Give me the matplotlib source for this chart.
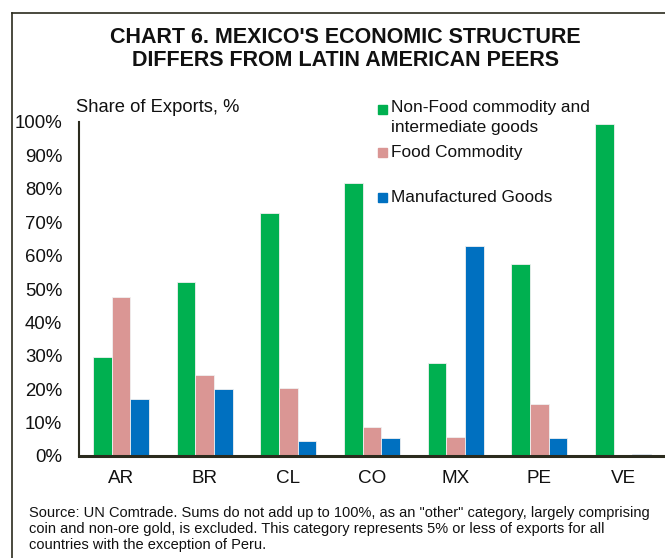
import numpy as np
import matplotlib
matplotlib.use("Agg")
import matplotlib.pyplot as plt
from matplotlib.patches import Rectangle
from matplotlib.lines import Line2D

countries = ["AR", "BR", "CL", "CO", "MX", "PE", "VE"]
non_food = [29.7, 52.2, 72.8, 81.7, 27.8, 57.4, 99.4]
food = [47.7, 24.3, 20.3, 8.7, 5.6, 15.6, 0.0]
manufactured = [17.0, 20.0, 4.5, 5.4, 62.9, 5.4, 0.6]

series_labels = ["Non-Food commodity and\nintermediate goods", "Food Commodity", "Manufactured Goods"]
series_colors = ["#00B050", "#DA9694", "#0070C0"]

title = "CHART 6. MEXICO'S ECONOMIC STRUCTURE\nDIFFERS FROM LATIN AMERICAN PEERS"
note = ("Source: UN Comtrade. Sums do not add up to 100%, as an \"other\" category, largely comprising\n"
        "coin and non-ore gold, is excluded. This category represents 5% or less of exports for all\n"
        "countries with the exception of Peru.")

plt.rcParams["font.family"] = ["Liberation Sans", "DejaVu Sans"]

W, H = 665, 558
fig = plt.figure(figsize=(W / 100, H / 100), dpi=100)

def fx(px):
    return px / W

def fy(py):
    return 1 - py / H

# outer frame (only top and left edges are inside the picture)
edge = "#2b2b1e"
fig.add_artist(Line2D([fx(11.5), 1.0], [fy(13), fy(13)], color=edge, lw=1.2))
fig.add_artist(Line2D([fx(11.5), fx(11.5)], [fy(13), 0.0], color=edge, lw=1.2))

ax = fig.add_axes([fx(79), fy(456), fx(665) - fx(79), fy(122) - fy(456)])

x = np.arange(len(countries))
w = 0.223
for i, (vals, col) in enumerate(zip([non_food, food, manufactured], series_colors)):
    ax.bar(x + (i - 1) * w, vals, width=w, color=col, edgecolor="#f0f0f0", linewidth=0.6)

ax.set_xlim(-0.5, 6.5)
ax.set_ylim(0, 100)
ax.set_yticks(np.arange(0, 101, 10))
ax.set_yticklabels([f"{v}%" for v in range(0, 101, 10)], fontsize=13.4, color="#111111")
ax.set_xticks(x)
ax.set_xticklabels(countries, fontsize=13.6, color="#111111")
ax.tick_params(axis="y", length=0, pad=12)
ax.tick_params(axis="x", length=0, pad=10)
for s in ["top", "right"]:
    ax.spines[s].set_visible(False)
ax.spines["left"].set_color(edge)
ax.spines["left"].set_linewidth(1.5)
ax.spines["bottom"].set_color(edge)
ax.spines["bottom"].set_linewidth(2.2)

fig.text(fx(345), fy(49), title, ha="center", va="center", fontsize=15.5,
         fontweight="bold", family=["Liberation Sans Narrow", "Liberation Sans"],
         linespacing=1.1, color="#111111")

fig.text(fx(76), fy(107), "Share of Exports, %", ha="left", va="center", fontsize=13.2, color="#111111")

# legend drawn by hand to keep the uneven spacing
leg_y = [109, 152, 197]
for lab, col, yy in zip(series_labels, series_colors, leg_y):
    fig.add_artist(Rectangle((fx(378), fy(yy + 4.5)), fx(9), fy(0) - fy(9), color=col,
                             transform=fig.transFigure))
    if "\n" in lab:
        fig.text(fx(391), fy(yy - 9), lab, ha="left", va="top", fontsize=12.4,
                 color="#111111", linespacing=1.38)
    else:
        fig.text(fx(391), fy(yy), lab, ha="left", va="center", fontsize=12.4, color="#111111")

fig.text(fx(29), fy(506), note, ha="left", va="top", fontsize=10.5, color="#111111", linespacing=1.2)

fig.savefig("out.png", dpi=100)
